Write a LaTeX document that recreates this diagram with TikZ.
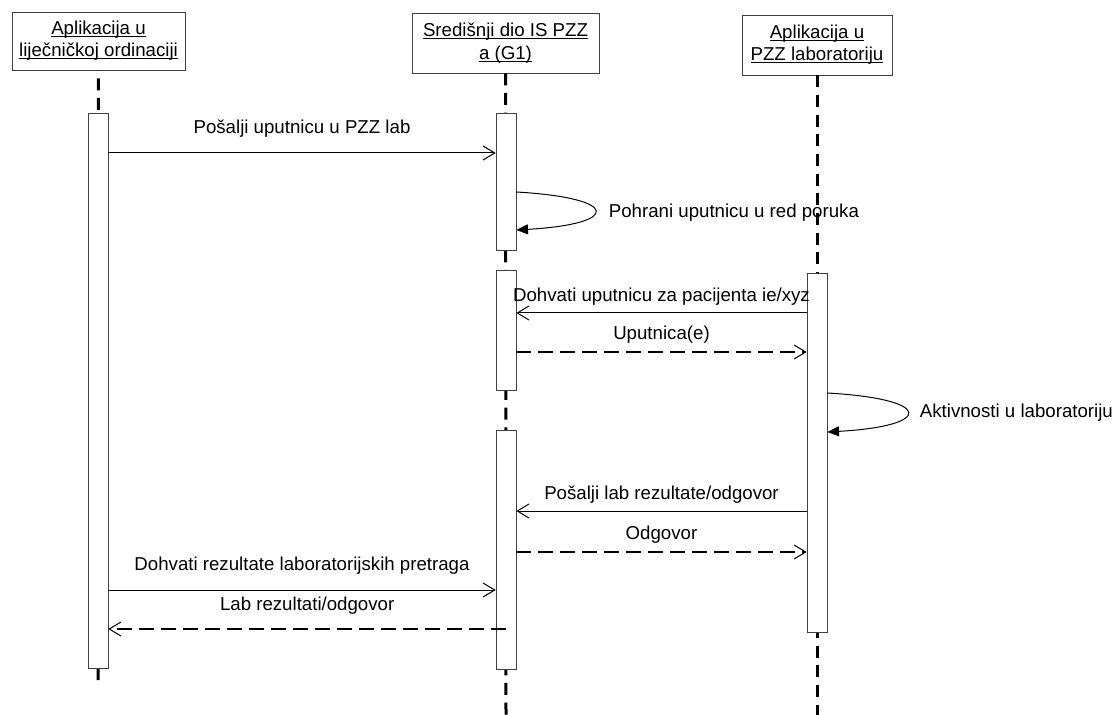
\documentclass[tikz,border=0pt]{standalone}
\usepackage{fontspec}
\setmainfont{Liberation Sans}
\usepackage{tikz}
\usetikzlibrary{arrows.meta, positioning}
\newcommand{\headul}[1]{\leavevmode\setbox0\hbox{#1}\rlap{\rule[-1.4pt]{\wd0}{0.5pt}}\box0}
\tikzset{
    every node/.style={font=\fontsize{11.2}{13.4}\selectfont},
    head/.style={rectangle, draw=black!75, fill=white, align=center, inner sep=2pt},
    act/.style={rectangle, draw=black!75, fill=white, minimum width=12pt, inner sep=0pt},
    lifeline/.style={line width=1.8pt, dash pattern=on 7.2pt off 4.6pt},
    msg/.style={line width=0.6pt, -{Straight Barb[length=7pt, width=8.4pt, line width=0.6pt]}},
    reply/.style={line width=1.3pt, dash pattern=on 9pt off 4.2pt, -{Straight Barb[length=7pt, width=8.4pt, line width=0.6pt]}},
    selfcall/.style={line width=0.6pt, -{Triangle[length=7pt, width=6pt]}}
}

\begin{document}
\begin{tikzpicture}[x=0.6pt, y=-0.6pt]
        \useasboundingbox (0,0) rectangle (1115,715);

        % Heads
        \node (ordinacija) [head, minimum width=103.8pt, minimum height=34.8pt] at (98.5,41) {\headul{Aplikacija u}\\\headul{liječničkoj ordinaciji}};
        \node (g1) [head, minimum width=112.2pt, minimum height=36pt] at (505.5,43) {\headul{Središnji dio IS PZZ}\\\headul{a (G1)}};
        \node (lab) [head, minimum width=90pt, minimum height=36pt] at (817,45) {\headul{Aplikacija u}\\\headul{PZZ laboratoriju}};

        % Lifelines
        \coordinate (end1) at (98,680);
        \coordinate (end2) at (506,715);
        \coordinate (end3) at (817,715);
        \draw [lifeline, dash phase=7pt] (ordinacija.south) -- (end1);
        \draw [lifeline] (g1.south) -- (end2);
        \draw [lifeline] (lab.south) -- (end3);

        % Activations
        \node (act1) [act, minimum height=333pt] at (98,390.5) {};
        \node (act2a) [act, minimum height=82.2pt] at (506,182) {};
        \node (act2b) [act, minimum height=72pt] at (506,330) {};
        \node (act2c) [act, minimum height=143.4pt] at (506,549.5) {};
        \node (act3) [act, minimum height=215.4pt] at (817,452.5) {};

        % Messages
        \draw [msg] (act1.east |- 0,153) -- node [above=6pt] {Pošalji uputnicu u PZZ lab} (act2a.west |- 0,153);
        \draw [selfcall] (act2a.east |- 0,192) .. controls (621,198) and (621,224) .. (act2a.east |- 0,230);
        \node (pohrani) [right] at (603,213) {Pohrani uputnicu u red poruka};
        \draw [msg] (act3.west |- 0,313) -- node [above=1pt] {Dohvati uputnicu za pacijenta ie/xyz} (act2b.east |- 0,313);
        \draw [reply] (act2b.east |- 0,352) -- node [above=1pt] {Uputnica(e)} (act3.west |- 0,352);
        \draw [selfcall] (act3.east |- 0,393) .. controls (934,399) and (934,426) .. (act3.east |- 0,432);
        \node (aktivnosti) [right] at (914,413) {Aktivnosti u laboratoriju};
        \draw [msg] (act3.west |- 0,511) -- node [above=1pt] {Pošalji lab rezultate/odgovor} (act2c.east |- 0,511);
        \draw [reply] (act2c.east |- 0,552) -- node [above=1pt] {Odgovor} (act3.west |- 0,552);
        \draw [msg] (act1.east |- 0,590) -- node [above=6pt] {Dohvati rezultate laboratorijskih pretraga} (act2c.west |- 0,590);
        \draw [reply] (act2c.center |- 0,629) -- node [above=5pt] {Lab rezultati/odgovor} (act1.east |- 0,629);
    \end{tikzpicture}
\end{document}
